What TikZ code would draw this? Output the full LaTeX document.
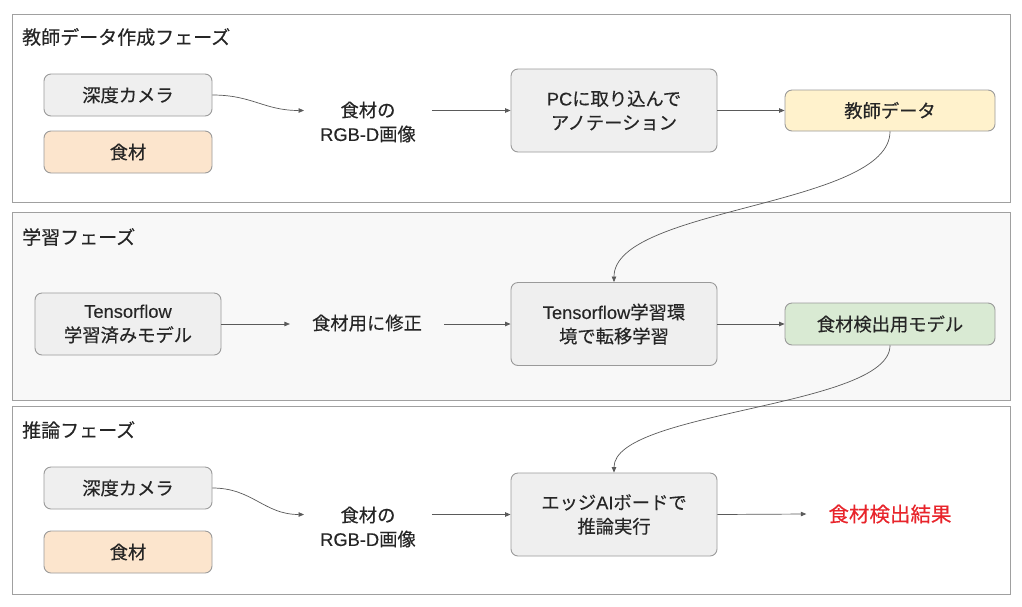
\documentclass[tikz,border=0pt]{standalone}
\usepackage{fontspec}
\setmainfont{Noto Sans CJK JP}[FakeBold=0.3]
\newfontfamily\lat{Liberation Sans}[FakeBold=0.2]
\usetikzlibrary{arrows.meta}
\definecolor{txtc}{HTML}{262626}
\definecolor{linec}{HTML}{5A5A5A}
\definecolor{bordc}{HTML}{9A9A9A}
\definecolor{grayf}{HTML}{EFEFEF}
\definecolor{orangef}{HTML}{FCE5CD}
\definecolor{yellowf}{HTML}{FFF2CC}
\definecolor{greenf}{HTML}{D9EAD3}
\definecolor{redt}{HTML}{E8242B}
\definecolor{frameb}{HTML}{A0A0A0}
\definecolor{framef2}{HTML}{F8F8F8}
\tikzset{
  every node/.style={font=\fontsize{18.3}{24}\selectfont, text=txtc},
  box/.style={draw=bordc, line width=0.9pt, rounded corners=7pt, align=center, inner sep=0pt},
  graybox/.style={box, fill=grayf},
  orangebox/.style={box, fill=orangef},
  yellowbox/.style={box, fill=yellowf},
  greenbox/.style={box, fill=greenf},
  txt/.style={align=center, inner ysep=0pt},
  frame/.style={draw=frameb, line width=1pt, inner sep=0pt, minimum width=998, minimum height=188},
  lbl/.style={anchor=west, inner sep=0pt, font=\fontsize{19}{24}\selectfont},
  arr/.style={draw=linec, line width=0.7pt, -{Triangle[length=5.5pt,width=4.5pt]}},
}
\begin{document}
\begin{tikzpicture}[x=1pt,y=-1pt]
\useasboundingbox[fill=white] (0,0) rectangle (1022,606);
% frames
\node[frame, fill=white] (f1) at (511,108) {};
\node[frame, fill=framef2] (f2) at (511,306) {};
\node[frame, fill=white] (f3) at (511,500) {};
\node[lbl] (l1) at (22,37) {教師データ作成フェーズ};
\node[lbl] (l2) at (22,237) {学習フェーズ};
\node[lbl] (l3) at (22,430) {推論フェーズ};
% section 1
\node[graybox, minimum width=168, minimum height=42] (cam1) at (128,95) {深度カメラ};
\node[orangebox, minimum width=168, minimum height=42] (food1) at (128,152) {食材};
\node[txt, inner xsep=16pt] (img1) at (368,122) {食材の\\{\lat RGB-D}画像};
\node[graybox, minimum width=206, minimum height=83] (pc) at (614,110.5) {{\lat PC}に取り込んで\\アノテーション};
\node[yellowbox, minimum width=210, minimum height=41] (teacher) at (890,110.5) {教師データ};
% section 2
\node[graybox, minimum width=186, minimum height=62] (tfm) at (128,324) {{\lat Tensorflow}\\学習済みモデル};
\node[txt, inner xsep=22pt] (fix) at (367,323) {食材用に修正};
\node[graybox, minimum width=206, minimum height=83] (tl) at (614,324) {{\lat Tensorflow}学習環\\境で転移学習};
\node[greenbox, minimum width=210, minimum height=42] (model) at (890,324) {食材検出用モデル};
% section 3
\node[graybox, minimum width=168, minimum height=42] (cam2) at (128,488) {深度カメラ};
\node[orangebox, minimum width=168, minimum height=42] (food2) at (128,552) {食材};
\node[txt, inner xsep=16pt] (img2) at (368,527) {食材の\\{\lat RGB-D}画像};
\node[graybox, minimum width=206, minimum height=83] (edge) at (614,514.5) {エッジ{\lat AI}ボードで\\推論実行};
\node[txt, text=redt, inner xsep=22pt, font=\fontsize{20.5}{24}\selectfont] (result) at (890,514) {食材検出結果};
% connectors
\draw[arr] (cam1.east) .. controls +(40,0) and +(-40,0) .. (img1.west |- pc.west);
\draw[arr] (img1.east |- pc.west) -- (pc.west);
\draw[arr] (pc.east) -- (teacher.west);
\draw[arr] (teacher.south) .. controls +(0,75) and +(0,-75) .. (tl.north);
\draw[arr] (tfm.east) -- (fix.west |- tfm.east);
\draw[arr] (fix.east |- tl.west) -- (tl.west);
\draw[arr] (tl.east) -- (model.west);
\draw[arr] (model.south) .. controls +(0,62) and +(0,-62) .. (edge.north);
\draw[arr] (cam2.east) .. controls +(40,0) and +(-40,0) .. (img2.west |- edge.west);
\draw[arr] (img2.east |- edge.west) -- (edge.west);
\draw[arr] (edge.east) -- (result.west);
\end{tikzpicture}
\end{document}
